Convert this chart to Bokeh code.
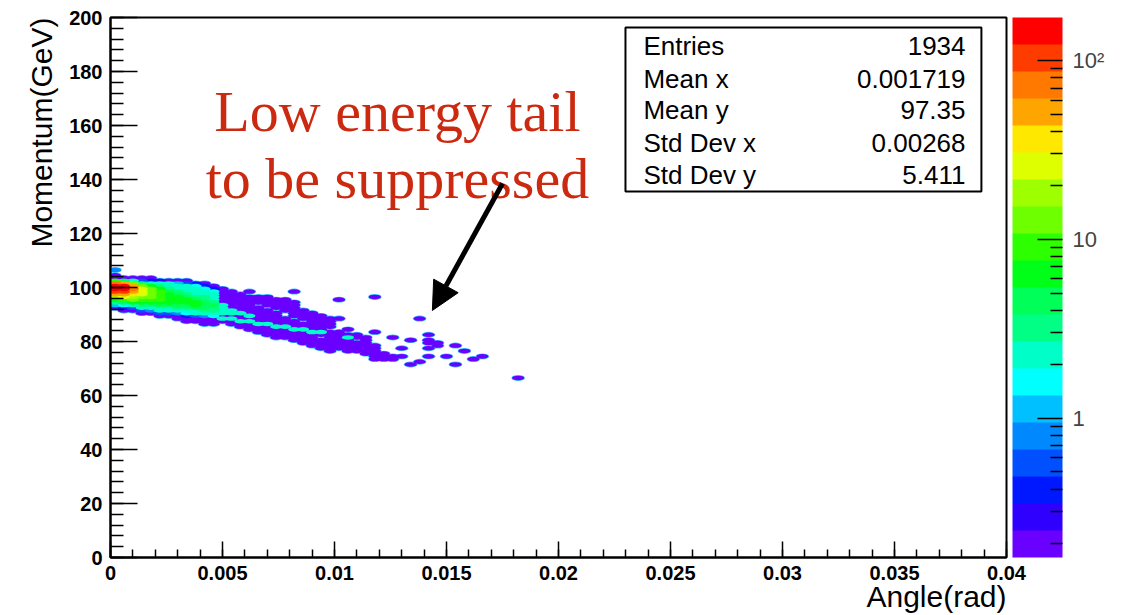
import numpy as np
from bokeh.plotting import figure
from bokeh.models import (ColumnDataSource, LogColorMapper, ColorBar, FixedTicker,
                          BoxAnnotation, Label, Arrow, NormalHead, Title)
from bokeh.transform import transform
from bokeh.embed import file_html
from bokeh.resources import INLINE

# ---------------- axes / ticks ----------------
x_tick_values = [0, 0.005, 0.01, 0.015, 0.02, 0.025, 0.03, 0.035, 0.04]
x_tick_labels = ["0", "0.005", "0.01", "0.015", "0.02", "0.025", "0.03", "0.035", "0.04"]
y_tick_values = [0, 20, 40, 60, 80, 100, 120, 140, 160, 180, 200]
y_tick_labels = ["0", "20", "40", "60", "80", "100", "120", "140", "160", "180", "200"]
z_tick_values = [1, 10, 100]
z_tick_labels = ["1", "10", "10\u00b2"]
x_title = "Angle(rad)"
y_title = "Momentum(GeV)"

# ---------------- histogram data (bins 0.0004 rad x 1 GeV) ----------------
bin_w = 0.0004
bin_h = 1.0

# dense core: one column per angle bin, contents listed from top momentum bin downwards
core_angle = [0.0002, 0.0006, 0.0010, 0.0014, 0.0018, 0.0022, 0.0026, 0.0030, 0.0034, 0.0038, 0.0042, 0.0046]
core_top = [106.5, 103.5, 103.5, 103.5, 103.5, 102.5, 102.5, 102.5, 102.5, 101.5, 101.5, 100.5]
core_contents = [
    [0.8, 0, 0.2, 0.2, 8, 80, 150, 160, 120, 50, 18, 7, 3, 1, 0.2],
    [0.2, 5, 55, 130, 140, 100, 50, 22, 10, 4.5, 1.8, 0.4, 0.2],
    [0.2, 2.2, 15, 50, 65, 55, 35, 20, 11, 5.5, 2.2, 0.5, 0.2],
    [0.2, 0.5, 3, 12, 22, 28, 22, 15, 10, 6.5, 3.2, 2, 0.6, 0.2],
    [0.2, 0.4, 2.2, 5.5, 12, 15, 14, 12, 9, 6, 3.5, 2, 0.8, 0.2],
    [0.3, 2, 3, 6, 9, 10, 10, 8, 5.5, 3.8, 2.4, 2, 0.5, 0.2],
    [0.2, 2, 2.4, 3.5, 5, 6.5, 7.5, 7.5, 5.5, 4, 2.6, 2, 0.6, 0.2],
    [0.2, 1.2, 2.2, 2.6, 3.4, 4.5, 6, 7, 6, 4.5, 3, 2.2, 0.8, 0.2, 0.2],
    [0.2, 0.5, 2, 2.2, 2.6, 3.2, 4.5, 6, 6.5, 5, 3.5, 2.3, 1.5, 0.4, 0.2, 0.2],
    [0.4, 1.6, 2.1, 2.2, 2.6, 3.4, 4.5, 6, 5.5, 4, 2.6, 2, 0.5, 0.2, 0.2],
    [0.2, 0.4, 1.4, 2, 2.3, 2.8, 3.4, 4.5, 5, 4.5, 3, 2.1, 0.8, 0.2, 0.2, 0.2],
    [0.2, 0.4, 1.6, 2, 2.2, 2.4, 3.2, 4, 3.6, 3.2, 2.1, 1.4, 0.2, 0.2, 0.2],
]

# low-energy tail: runs of single-entry bins (angle, lowest and highest momentum bin)
tail_level = 0.2
tail_angle = [0.0050, 0.0054, 0.0058, 0.0062, 0.0066, 0.0066, 0.0070, 0.0070, 0.0074, 0.0074,
              0.0078, 0.0078, 0.0082, 0.0082, 0.0086, 0.0086, 0.0090, 0.0094, 0.0094, 0.0098,
              0.0098, 0.0102, 0.0106, 0.0110, 0.0110, 0.0114, 0.0118, 0.0122, 0.0126]
tail_lo = [87.5, 86.5, 85.5, 84.5, 83.5, 94.5, 82.5, 93.5, 81.5, 92.5,
           81.5, 91.5, 80.5, 89.5, 79.5, 88.5, 78.5, 77.5, 82.5, 76.5,
           85.5, 77.5, 76.5, 76.5, 81.5, 75.5, 73.5, 73.5, 73.5]
tail_hi = [99.5, 98.5, 97.5, 96.5, 92.5, 96.5, 91.5, 96.5, 90.5, 95.5,
           88.5, 95.5, 87.5, 94.5, 86.5, 91.5, 90.5, 80.5, 89.5, 83.5,
           88.5, 83.5, 82.5, 79.5, 82.5, 81.5, 78.5, 75.5, 74.5]

# denser streaks inside the tail
streak_angle = [0.0050, 0.0050, 0.0050, 0.0050, 0.0054, 0.0054, 0.0058, 0.0062,
                0.0050, 0.0054, 0.0058, 0.0062, 0.0066, 0.0070, 0.0074, 0.0078,
                0.0082, 0.0086, 0.0090, 0.0094, 0.0106]
streak_mom = [93.5, 92.5, 91.5, 90.5, 91.5, 90.5, 90.5, 89.5,
              88.5, 88.5, 87.5, 87.5, 86.5, 86.5, 85.5, 85.5,
              84.5, 84.5, 83.5, 83.5, 81.5]
streak_z = [2.3, 2.6, 2.4, 2.0, 2.2, 2.0, 2.2, 2.0,
            2.2, 2.3, 2.2, 2.2, 2.3, 2.2, 2.2, 2.0,
            2.2, 2.0, 2.0, 1.9, 2.0]

# isolated entries
iso_angle = [0.0062, 0.0082, 0.0102, 0.0102, 0.0118, 0.0106, 0.0118, 0.0126, 0.0134, 0.0142,
             0.0142, 0.0142, 0.0146, 0.0146, 0.0142, 0.0154, 0.0158, 0.0130, 0.0130, 0.0142,
             0.0150, 0.0162, 0.0166, 0.0134, 0.0138, 0.0154, 0.0138, 0.0182]
iso_mom = [98.5, 98.5, 95.5, 88.5, 96.5, 84.5, 83.5, 81.5, 80.5, 82.5,
           80.5, 79.5, 79.5, 78.5, 77.5, 78.5, 76.5, 77.5, 74.5, 74.5,
           74.5, 73.5, 74.5, 71.5, 72.5, 71.5, 88.5, 66.5]

# statistics box
stat_names = ["Entries", "Mean x", "Mean y", "Std Dev x", "Std Dev y"]
stat_values = ["1934", "0.001719", "97.35", "0.00268", "5.411"]

# ROOT rainbow palette, 20 contour levels (bottom -> top)
palette = ["#6A00FF", "#3000FF", "#0018FF", "#0050FF", "#0088FF", "#00C0FF", "#00FFFF",
           "#00FFC8", "#00FF84", "#00FF58", "#00FF18", "#2DFF00", "#6EFF00", "#9EFF00",
           "#DDFF00", "#FFE800", "#FFA500", "#FF7800", "#FF3C00", "#FF0000"]
z_low, z_high = 0.166, 174.0

# ---------------- assemble cells ----------------
xs, ys, zs = [], [], []
for a, top, col in zip(core_angle, core_top, core_contents):
    for k, v in enumerate(col):
        if v > 0:
            xs.append(a); ys.append(top - k * bin_h); zs.append(v)
for a, lo, hi in zip(tail_angle, tail_lo, tail_hi):
    m = lo
    while m <= hi + 1e-9:
        xs.append(a); ys.append(m); zs.append(tail_level)
        m += bin_h
xs += streak_angle; ys += streak_mom; zs += streak_z
xs += iso_angle; ys += iso_mom; zs += [tail_level] * len(iso_angle)

order = np.argsort(np.array(zs), kind="stable")
src = ColumnDataSource(dict(x=[xs[i] for i in order], y=[ys[i] for i in order],
                            z=[zs[i] for i in order]))

mapper = LogColorMapper(palette=palette, low=z_low, high=z_high)

p = figure(width=1122, height=615, x_range=(0, 0.04), y_range=(0, 200),
           output_backend="svg", toolbar_location=None,
           min_border_left=110, min_border_right=116, min_border_top=17, min_border_bottom=58,
           background_fill_color="white", border_fill_color="white")
p.grid.visible = False
p.outline_line_color = "black"
p.outline_line_width = 2

# rim + cells
p.ellipse(x="x", y="y", width=bin_w * 1.5, height=bin_h * 2.2, source=src,
          fill_color="#35C4FF", line_color=None)
p.ellipse(x="x", y="y", width=bin_w * 1.35, height=bin_h * 1.7, source=src,
          fill_color=transform("z", mapper), line_color=None)

# axes
p.xaxis.ticker = FixedTicker(ticks=x_tick_values, minor_ticks=[i * 0.001 for i in range(41)])
p.yaxis.ticker = FixedTicker(ticks=y_tick_values, minor_ticks=list(range(0, 201, 4)))
p.xaxis.major_label_overrides = dict(zip(x_tick_values, x_tick_labels))
p.yaxis.major_label_overrides = dict(zip(y_tick_values, y_tick_labels))
for ax, maj, mnr in ((p.xaxis, 16, 8), (p.yaxis, 27, 13)):
    ax.major_tick_in = maj
    ax.major_tick_out = 0
    ax.minor_tick_in = mnr
    ax.minor_tick_out = 0
    ax.axis_line_width = 2
    ax.major_tick_line_width = 1.5
    ax.minor_tick_line_width = 1.5
    ax.major_label_text_font = "Liberation Sans"
    ax.major_label_text_font_style = "bold"
    ax.major_label_text_font_size = "20px"
    ax.major_label_text_color = "black"
    ax.major_label_standoff = 8

# axis titles, aligned to the end of each axis (ROOT style)
p.add_layout(Title(text=y_title, align="right", text_font="Liberation Sans",
                   text_font_style="normal", text_font_size="30px", text_color="black",
                   standoff=18), "left")
p.add_layout(Title(text=x_title, align="right", text_font="Liberation Sans",
                   text_font_style="normal", text_font_size="30px", text_color="black",
                   standoff=-10), "below")

# colour bar
cb = ColorBar(color_mapper=mapper, width=50, height=540, padding=0, margin=0,
              location=(6, 0),
              ticker=FixedTicker(ticks=z_tick_values,
                                 minor_ticks=[0.2, 0.3, 0.4, 0.5, 0.6, 0.7, 0.8, 0.9,
                                              2, 3, 4, 5, 6, 7, 8, 9,
                                              20, 30, 40, 50, 60, 70, 80, 90]),
              major_label_overrides=dict(zip(z_tick_values, z_tick_labels)),
              major_tick_in=25, major_tick_out=0, minor_tick_in=12, minor_tick_out=0,
              major_tick_line_color="black", minor_tick_line_color="black",
              major_tick_line_width=1.5, minor_tick_line_width=1.5,
              major_label_text_font="Liberation Sans", major_label_text_font_size="22px",
              label_standoff=10, bar_line_color=None, border_line_color=None,
              background_fill_alpha=0)
p.add_layout(cb, "right")

# annotation
p.add_layout(Label(x=0.01281, y=165.2, text="Low energy tail", text_align="center",
                   text_baseline="alphabetic", text_font="Liberation Serif",
                   text_font_size="58px", text_color="#CC2A10"))
p.add_layout(Label(x=0.01281, y=140.4, text="to be suppressed", text_align="center",
                   text_baseline="alphabetic", text_font="Liberation Serif",
                   text_font_size="58px", text_color="#CC2A10"))
p.add_layout(Arrow(end=NormalHead(size=28, fill_color="black", line_color="black"),
                   x_start=0.0175, y_start=138.5, x_end=0.01437, y_end=91.5,
                   line_width=5, line_color="black"))

# statistics box
p.add_layout(BoxAnnotation(left=0.02299, right=0.03888, top=196.3, bottom=135.6,
                           fill_color="white", fill_alpha=1.0,
                           line_color="black", line_width=2, line_alpha=1.0))
row_y = [189.3, 177.4, 165.6, 153.7, 141.85]
for name, val, yy in zip(stat_names, stat_values, row_y):
    p.add_layout(Label(x=0.02379, y=yy, text=name, text_align="left", text_baseline="middle",
                       text_font="Liberation Sans", text_font_size="26px", text_color="black"))
    p.add_layout(Label(x=0.03817, y=yy, text=val, text_align="right", text_baseline="middle",
                       text_font="Liberation Sans", text_font_size="26px", text_color="black"))

open("out.html", "w").write(file_html(p, INLINE))
